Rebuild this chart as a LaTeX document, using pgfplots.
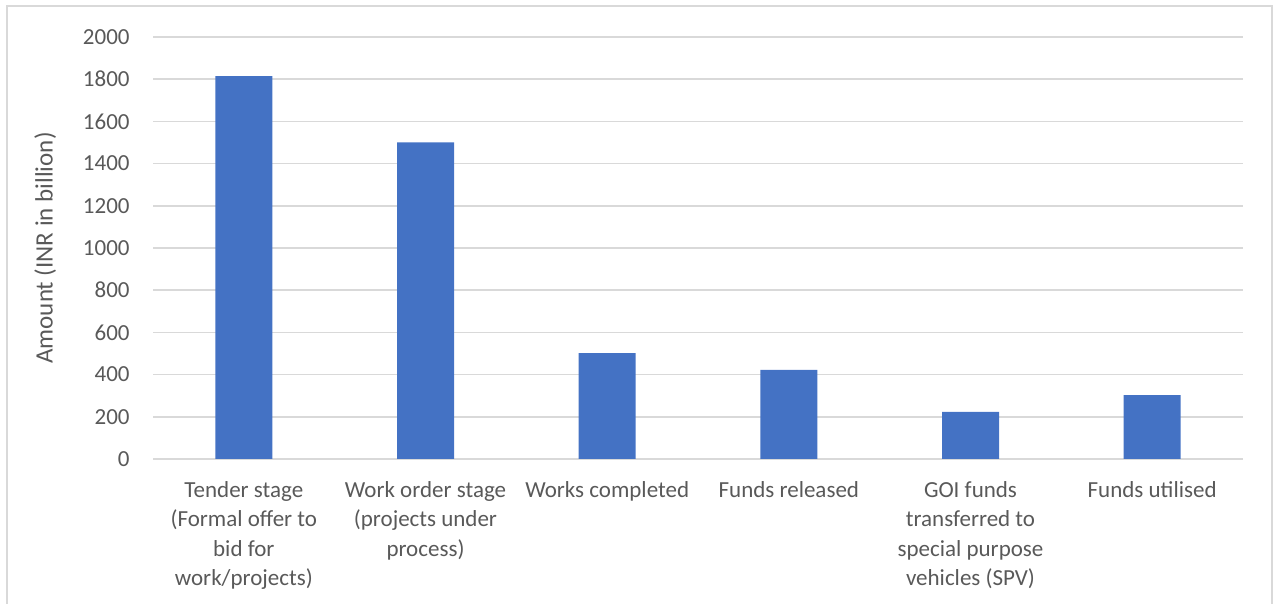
\documentclass[border=0pt]{standalone}
\usepackage{pgfplots}
\pgfplotsset{compat=1.18}
\usepackage{fontspec}
\setmainfont{Carlito}
\definecolor{barblue}{HTML}{4472C4}
\definecolor{gridgray}{HTML}{D9D9D9}
\definecolor{txtgray}{HTML}{595959}
\begin{document}
\begin{tikzpicture}[x=1pt,y=1pt]
\useasboundingbox (0,0) rectangle (637,302);
\draw[gridgray, line width=0.75pt] (3.5,-10) rectangle (636,299);
\begin{axis}[
	at={(76.5pt,72.5pt)}, anchor=south west,
	width=545pt, height=211pt, scale only axis,
	xmin=-0.5, xmax=5.5,
	ymin=0, ymax=2000,
	ytick={0,200,...,2000},
	xtick={0,...,5},
	xticklabels={
		{Tender stage\\(Formal offer to\\bid for\\work/projects)},
		{Work order stage\\(projects under\\process)},
		{Works completed},
		{Funds released},
		{GOI funds\\transferred to\\special purpose\\vehicles (SPV)},
		{Funds utilised}},
	ymajorgrids,
	grid style={gridgray, line width=0.75pt},
	axis line style={draw=none},
	major tick length=0pt,
	/pgf/number format/1000 sep={},
	/pgf/number format/assume math mode=true,
	tick label style={font=\fontsize{11.5}{14.7}\selectfont, text=txtgray, inner sep=0pt},
	yticklabel style={xshift=-11.5pt},
	xticklabel style={yshift=-11pt, align=center},
	ylabel={Amount (INR in billion)},
	ylabel style={at={(axis description cs:-0.099,0.5)}, rotate=0, anchor=center, font=\fontsize{12.5}{15}\selectfont, text=txtgray},
	]
	\addplot[ybar, bar width=28.5pt, fill=barblue, draw=none] coordinates {
		(0,1815) (1,1500) (2,502) (3,422) (4,223) (5,303)};
\end{axis}
\end{tikzpicture}
\end{document}
